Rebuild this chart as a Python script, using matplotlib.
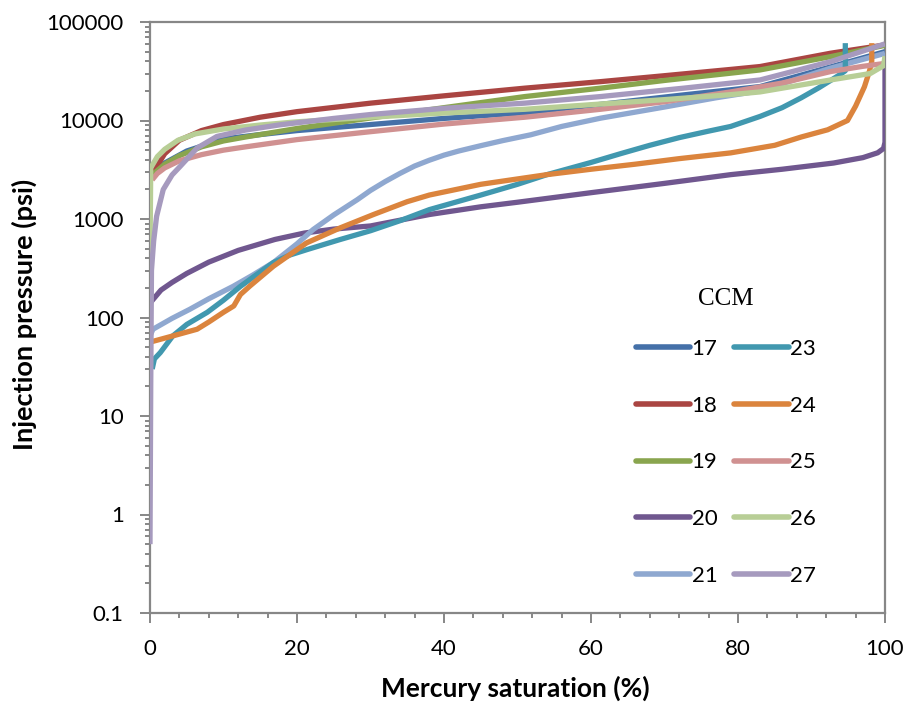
import matplotlib.pyplot as plt
from matplotlib.ticker import FixedLocator, LogLocator, NullFormatter, MultipleLocator

plt.rcParams["font.family"] = ["Lato", "DejaVu Sans"]

# Mercury injection capillary pressure curves, one per CCM sample
sat_17 = [0.3, 2, 5, 10, 15, 20, 30, 40, 51, 61, 72.6, 83, 92.6, 100]
pc_17 = [2800, 3700, 4900, 6500, 7200, 7900, 9100, 10500, 12000, 14500, 18200, 22100, 35000, 50000]

sat_18 = [0.3, 1, 2, 4, 7, 10, 15, 20, 30, 40, 51, 61.3, 70, 79, 83, 92.6, 100]
pc_18 = [2700, 3500, 4600, 6300, 7900, 9100, 10800, 12300, 15000, 17800, 21300, 24800, 28500, 33000, 35300, 48200, 58500]

sat_19 = [0.3, 2, 4, 7, 10, 13, 20, 30, 40, 51, 61.3, 70, 83, 92.6, 100]
pc_19 = [2800, 3600, 4400, 5400, 6200, 6800, 8300, 10600, 13500, 17500, 21300, 25500, 32600, 44500, 58000]

sat_20 = [0, 0.4, 1.5, 3, 5, 8, 12, 17, 21, 25, 30, 38, 45, 50, 60, 70, 79, 86, 93, 97, 99, 99.8, 100, 100]
pc_20 = [140, 152, 190, 227, 280, 365, 480, 620, 720, 790, 850, 1110, 1330, 1480, 1850, 2300, 2820, 3200, 3700,
         4200, 4700, 5200, 6000, 35000]

sat_21 = [0, 0.4, 3, 5.4, 8, 11.3, 14, 16.8, 20, 22.2, 25, 28.2, 30, 32, 34, 36, 38, 40, 42, 45, 48, 51.8, 56,
          61.3, 70, 77, 83, 92.6, 100]
pc_21 = [65, 76, 98, 121, 155, 207, 270, 362, 560, 782, 1100, 1570, 1950, 2400, 2900, 3450, 3950, 4450, 4900,
         5550, 6250, 7160, 8700, 10560, 13700, 17000, 20000, 34000, 48000]

sat_23 = [0.3, 0.6, 1.4, 3.1, 5, 7.8, 10, 12.3, 15, 16.8, 19, 21.4, 25.9, 30, 34, 38, 45, 50, 54, 60, 64, 68,
          72, 76, 79, 83, 86, 88.6, 91, 92.6, 93.8, 94.6, 94.6]
pc_23 = [30, 38, 44, 65, 85, 113, 150, 207, 290, 362, 430, 490, 620, 760, 960, 1245, 1750, 2250, 2820, 3750,
         4600, 5600, 6700, 7800, 8700, 11000, 13500, 17000, 21500, 25500, 29000, 32000, 61000]

sat_24 = [0.3, 3.1, 6.4, 8, 10, 11.4, 12.3, 13.6, 16.8, 21.3, 25.9, 30.4, 35, 38, 45, 54, 60, 66, 72, 79, 85,
          88.6, 92.2, 94.9, 96, 97.2, 97.9, 98.2, 98.2]
pc_24 = [57, 65, 76, 90, 113, 131, 171, 209, 332, 572, 814, 1110, 1500, 1750, 2250, 2820, 3200, 3600, 4100,
         4690, 5600, 6800, 8050, 10000, 14000, 22000, 32000, 40000, 61000]

sat_25 = [0.3, 1, 2, 4, 7, 10, 13, 20, 30, 40, 51, 61.3, 70, 79, 86, 92.6, 97, 100]
pc_25 = [2500, 2900, 3300, 3900, 4500, 5000, 5400, 6400, 7700, 9200, 10800, 13000, 15500, 19500, 24000, 31400,
         35500, 38000]

sat_26 = [0, 0.1, 1, 2, 3.8, 6.1, 10, 15, 20, 30, 40, 51, 61.3, 70, 79, 83, 92.6, 98, 99.8, 100]
pc_26 = [400, 3300, 4300, 5100, 6300, 7300, 8200, 9000, 9700, 10800, 11900, 13000, 14700, 16300, 18300, 19500,
         25800, 30000, 36000, 45000]

sat_27 = [0, 0.1, 0.2, 0.5, 0.9, 1.8, 3, 4.1, 6.4, 9.1, 13, 17.7, 25, 30, 40, 51, 61.3, 72.6, 83, 92.6, 100]
pc_27 = [0.5, 20, 300, 600, 1065, 1990, 2800, 3420, 5250, 6890, 8000, 9040, 10500, 11500, 13300, 15000, 17500,
         21300, 25800, 39600, 60000]

samples = ["17", "18", "19", "20", "21", "23", "24", "25", "26", "27"]
saturations = [sat_17, sat_18, sat_19, sat_20, sat_21, sat_23, sat_24, sat_25, sat_26, sat_27]
pressures = [pc_17, pc_18, pc_19, pc_20, pc_21, pc_23, pc_24, pc_25, pc_26, pc_27]
colors = ["#4470A8", "#AA4542", "#89A54E", "#70578F", "#8FA8D0",
          "#4198AF", "#DB843D", "#D09191", "#B8CE96", "#A69ABE"]

y_ticks = [0.1, 1, 10, 100, 1000, 10000, 100000]
y_tick_labels = ["0.1", "1", "10", "100", "1000", "10000", "100000"]
x_ticks = [0, 20, 40, 60, 80, 100]

AXIS_GREY = "#878787"

fig = plt.figure(figsize=(9.14, 7.03), dpi=100)
ax = fig.add_axes([150 / 914, 1 - 613 / 703, (885 - 150) / 914, (613 - 22) / 703])

for name, s, p, c in zip(samples, saturations, pressures, colors):
    ax.plot(s, p, color=c, lw=3.8, solid_capstyle="butt", solid_joinstyle="round", label=name, zorder=3)

ax.set_yscale("log")
ax.set_ylim(0.1, 100000)
ax.set_xlim(0, 100)

ax.yaxis.set_major_locator(FixedLocator(y_ticks))
ax.set_yticklabels(y_tick_labels)
ax.yaxis.set_minor_locator(LogLocator(base=10, subs=range(2, 10)))
ax.yaxis.set_minor_formatter(NullFormatter())
ax.set_xticks(x_ticks)
ax.xaxis.set_minor_locator(MultipleLocator(4))

for side in ["left", "bottom", "right", "top"]:
    ax.spines[side].set_color(AXIS_GREY)
    ax.spines[side].set_linewidth(1.6)

ax.tick_params(axis="both", which="major", direction="out", length=7, width=1.4, color=AXIS_GREY,
               labelsize=16, pad=12, labelcolor="black")
ax.tick_params(axis="both", which="minor", direction="out", length=3.5, width=1.4, color=AXIS_GREY)
ax.tick_params(axis="y", which="both", right=False)
ax.tick_params(axis="x", which="both", top=False)

fig.text(515 / 914, 1 - 688 / 703, "Mercury saturation (%)", ha="center", va="center",
         fontsize=19, fontweight="bold")
fig.text(24 / 914, 1 - 314 / 703, "Injection pressure (psi)", ha="center", va="center", rotation=90,
         fontsize=19.5, fontweight="bold")

leg = ax.legend(loc="upper left", bbox_to_anchor=(636 / 914, 1 - 288 / 703), bbox_transform=fig.transFigure,
                ncol=2, frameon=False, title="CCM", borderpad=0, borderaxespad=0,
                handlelength=2.45, handletextpad=0.05, columnspacing=0.75, labelspacing=1.65,
                prop={"size": 16},
                title_fontproperties={"family": "Liberation Serif", "size": 18})
leg._legend_box.sep = 21
for line in leg.get_lines():
    line.set_linewidth(4.0)
    line.set_solid_capstyle("round")

fig.savefig("out.png", dpi=100)
